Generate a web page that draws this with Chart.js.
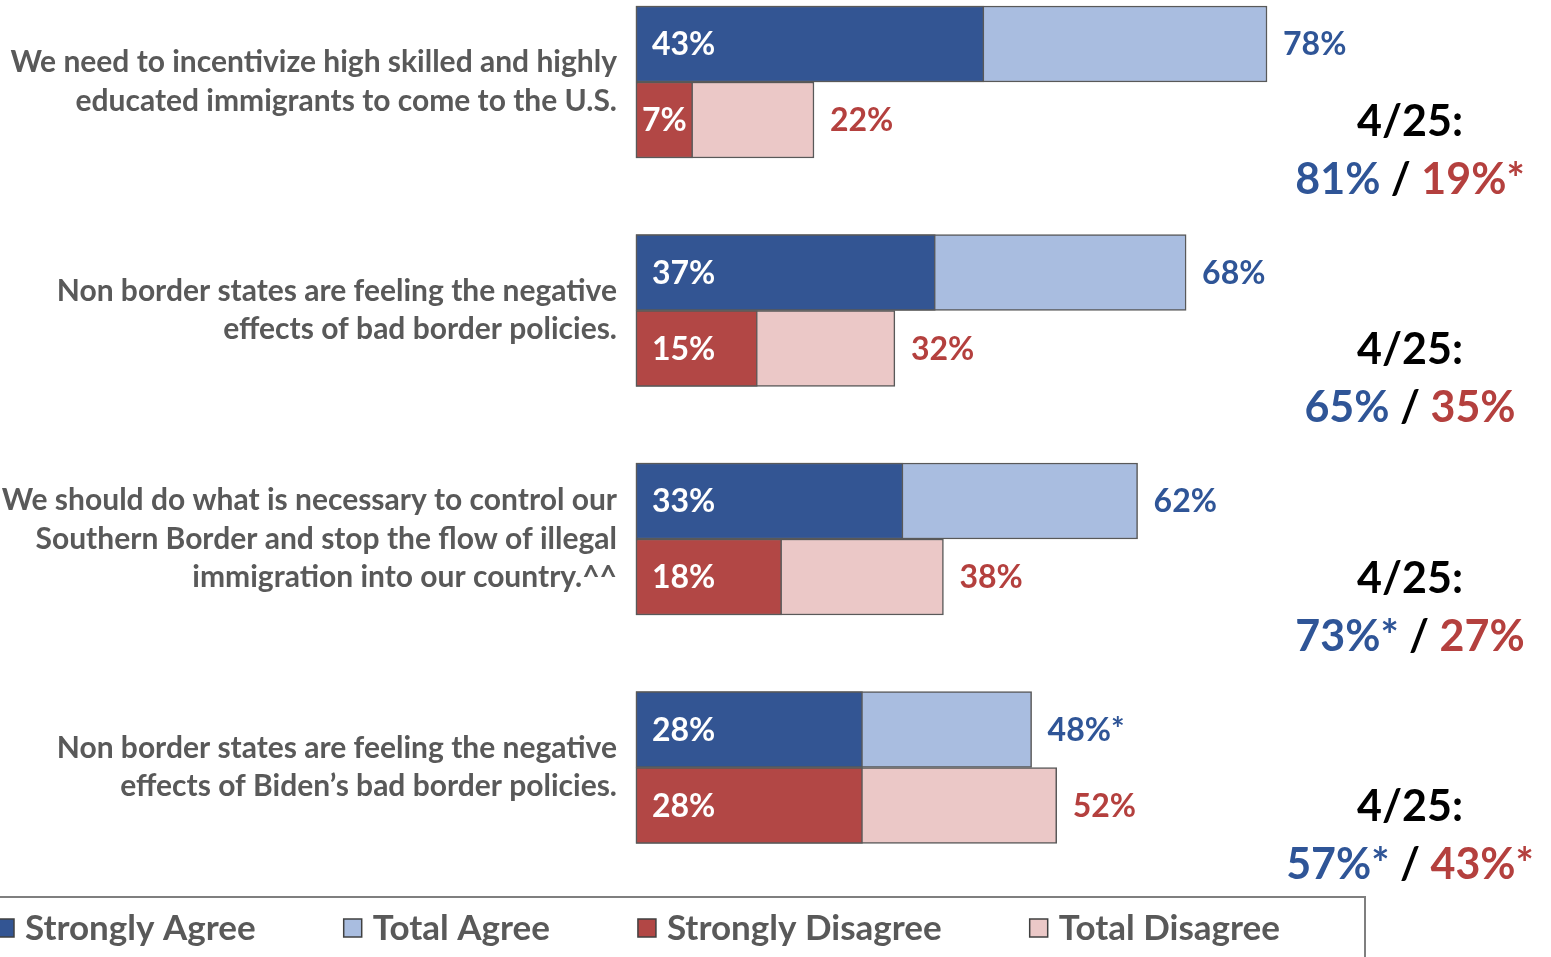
<!DOCTYPE html>
<html>
<head>
<meta charset="UTF-8">
<title>Border and immigration statements</title>
<style>
  body { margin: 0; background: #fff; }
  #chart { display: block; }
</style>
<script src="https://cdn.jsdelivr.net/npm/chart.js@4.4.1/dist/chart.umd.min.js"></script>
</head>
<body>
<canvas id="chart" width="1551" height="957"></canvas>
<script>
// statements (y categories)
const statements = [
  ['We need to incentivize high skilled and highly', 'educated immigrants to come to the U.S.'],
  ['Non border states are feeling the negative', 'effects of bad border policies.'],
  ['We should do what is necessary to control our', 'Southern Border and stop the flow of illegal', 'immigration into our country.^^'],
  ['Non border states are feeling the negative', 'effects of Biden\u2019s bad border policies.']
];

// values in %
const stronglyAgree = [43, 37, 33, 28];
const totalAgree = [78, 68, 62, 48.9];
const stronglyDisagree = [7, 15, 18, 28];
const totalDisagree = [22, 32, 38, 52];

// printed labels
const totalAgreeText = ['78%', '68%', '62%', '48%*'];
const priorDate = '4/25:';
const priorAgree = ['81%', '65%', '73%*', '57%*'];
const priorDisagree = ['19%*', '35%', '27%', '43%*'];

const BLUE = '#335593', LIGHT_BLUE = '#A9BDE0', RED = '#B24745', PINK = '#EBC8C7';
const BLUE_TEXT = '#2F5597', RED_TEXT = '#B4403E', GREY = '#595959';
const FONT = 'Lato';

const pct = v => Math.round(v) + '%';

// white labels inside strong bars, coloured labels after total bars
const barLabels = {
  id: 'barLabels',
  afterDatasetsDraw(chart) {
    const ctx = chart.ctx;
    ctx.save();
    ctx.font = 'bold 32px ' + FONT;
    ctx.textBaseline = 'middle';
    ctx.textAlign = 'left';
    chart.data.datasets.forEach((ds, i) => {
      chart.getDatasetMeta(i).data.forEach((bar, j) => {
        const text = ds.labelText[j];
        if (ds.inside) {
          const w = ctx.measureText(text).width;
          const mid = (bar.base + bar.x) / 2;
          ctx.fillStyle = '#fff';
          ctx.fillText(text, Math.min(bar.base + 16, mid - w / 2), bar.y + 1);
        } else {
          ctx.fillStyle = ds.labelColor;
          ctx.fillText(text, bar.x + 16, bar.y + 1);
        }
      });
    });
    ctx.restore();
  }
};

// "4/25:" comparison on the right
const priorNotes = {
  id: 'priorNotes',
  afterDraw(chart) {
    const ctx = chart.ctx;
    const yScale = chart.scales.y;
    const cx = 1410;
    ctx.save();
    ctx.font = 'bold 43px ' + FONT;
    ctx.textBaseline = 'middle';
    statements.forEach((s, i) => {
      const y = yScale.getPixelForValue(i);
      ctx.textAlign = 'center';
      ctx.fillStyle = '#000';
      ctx.fillText(priorDate, cx, y + 40);
      const parts = [[priorAgree[i], BLUE_TEXT], [' / ', '#000'], [priorDisagree[i], RED_TEXT]];
      const total = parts.reduce((a, p) => a + ctx.measureText(p[0]).width, 0);
      let x = cx - total / 2;
      ctx.textAlign = 'left';
      parts.forEach(p => {
        ctx.fillStyle = p[1];
        ctx.fillText(p[0], x, y + 98);
        x += ctx.measureText(p[0]).width;
      });
    });
    ctx.restore();
  }
};

// boxed legend along the bottom
const legendBox = {
  id: 'legendBox',
  afterDraw(chart) {
    const ctx = chart.ctx;
    ctx.save();
    ctx.strokeStyle = '#7f7f7f';
    ctx.lineWidth = 2;
    ctx.beginPath();
    ctx.moveTo(0, 897);
    ctx.lineTo(1365, 897);
    ctx.lineTo(1365, 957);
    ctx.stroke();
    ctx.font = 'bold 35px ' + FONT;
    ctx.textBaseline = 'middle';
    ctx.textAlign = 'left';
    let x = -4;
    const y = 928;
    [0, 1, 2, 3].forEach(k => {
      const ds = chart.data.datasets[k];
      ctx.fillStyle = ds.backgroundColor;
      ctx.fillRect(x, y - 9, 18, 18);
      ctx.lineWidth = 1.5;
      ctx.strokeStyle = '#404040';
      ctx.strokeRect(x, y - 9, 18, 18);
      ctx.fillStyle = GREY;
      ctx.fillText(ds.label, x + 29, y + 1);
      x += 29 + ctx.measureText(ds.label).width + 88;
    });
    ctx.restore();
  }
};

const barStyle = { borderColor: GREY, borderWidth: 1.5, borderSkipped: false, barThickness: 76, clip: false };

new Chart(document.getElementById('chart'), {
  type: 'bar',
  data: {
    labels: statements,
    datasets: [
      Object.assign({ label: 'Strongly Agree', data: stronglyAgree, backgroundColor: BLUE, stack: 'agree',
        order: 0, labelText: stronglyAgree.map(pct), inside: true }, barStyle),
      Object.assign({ label: 'Total Agree', data: totalAgree, backgroundColor: LIGHT_BLUE, stack: 'agree',
        order: 1, labelText: totalAgreeText, labelColor: BLUE_TEXT }, barStyle),
      Object.assign({ label: 'Strongly Disagree', data: stronglyDisagree, backgroundColor: RED, stack: 'disagree',
        order: 0, labelText: stronglyDisagree.map(pct), inside: true }, barStyle),
      Object.assign({ label: 'Total Disagree', data: totalDisagree, backgroundColor: PINK, stack: 'disagree',
        order: 1, labelText: totalDisagree.map(pct), labelColor: RED_TEXT }, barStyle)
    ]
  },
  options: {
    indexAxis: 'y',
    responsive: false,
    animation: false,
    layout: { padding: { top: 82, bottom: 189.5, left: 0, right: 106 } },
    scales: {
      x: { display: false, stacked: false, min: 0, max: 100 },
      y: {
        stacked: true,
        offset: false,
        grid: { display: false },
        border: { display: false },
        afterFit: s => { s.width = 636; },
        ticks: {
          padding: 11,
          color: GREY,
          font: { family: FONT, size: 30, weight: 'bold', lineHeight: 1.28 }
        }
      }
    },
    plugins: {
      legend: { display: false },
      tooltip: { enabled: false }
    }
  },
  plugins: [barLabels, priorNotes, legendBox]
});
</script>
</body>
</html>
